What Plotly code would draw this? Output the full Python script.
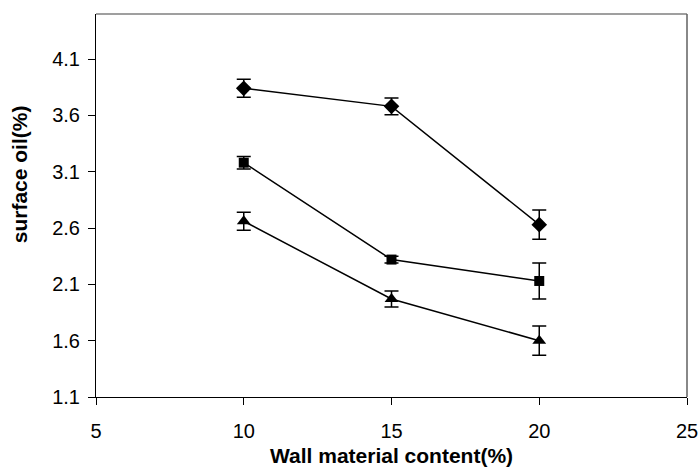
import plotly.graph_objects as go

x_vals = [10, 15, 20]
diamond_vals = [3.84, 3.68, 2.63]
diamond_err = [0.08, 0.075, 0.13]
square_vals = [3.18, 2.32, 2.13]
square_err = [0.055, 0.03, 0.16]
triangle_vals = [2.66, 1.97, 1.60]
triangle_err = [0.08, 0.07, 0.13]

y_ticks = [1.1, 1.6, 2.1, 2.6, 3.1, 3.6, 4.1]
x_ticks = [5, 10, 15, 20, 25]

fig = go.Figure()
for vals, errs, sym, size in [
    (diamond_vals, diamond_err, "diamond", 12),
    (square_vals, square_err, "square", 10),
    (triangle_vals, triangle_err, "triangle-up", 12),
]:
    fig.add_trace(go.Scatter(
        x=x_vals, y=vals, mode="lines+markers",
        line=dict(color="black", width=1.5),
        marker=dict(symbol=sym, size=size, color="black"),
        error_y=dict(type="data", array=errs, visible=True, color="black", thickness=1.5, width=7),
        showlegend=False,
    ))

fig.update_layout(
    width=700, height=468,
    margin=dict(l=96, r=13, t=14, b=71),
    plot_bgcolor="white", paper_bgcolor="white",
    font=dict(family="Liberation Sans, Arial", size=20, color="black"),
    xaxis=dict(range=[5, 25], tickvals=x_ticks, ticks="outside", ticklen=7, tickcolor="black",
               showline=True, linecolor="black", linewidth=1, showgrid=False, zeroline=False,
               ticklabelstandoff=9, automargin=False),
    yaxis=dict(range=[1.1, 4.5], tickvals=y_ticks, ticktext=[f"{v:.1f}" for v in y_ticks],
               ticks="outside", ticklen=7, tickcolor="black",
               showline=True, linecolor="black", linewidth=1, showgrid=False, zeroline=False,
               ticklabelstandoff=4, automargin=False),
    shapes=[
        dict(type="line", xref="paper", yref="paper", x0=0, x1=1, y0=1, y1=1,
             line=dict(color="#404040", width=1.2)),
        dict(type="line", xref="paper", yref="paper", x0=1, x1=1, y0=0, y1=1,
             line=dict(color="#606060", width=1.5)),
    ],
    annotations=[
        dict(text="<b>Wall material content(%)</b>", xref="paper", yref="paper",
             x=0.5, y=-0.154, xanchor="center", yanchor="middle", showarrow=False,
             font=dict(size=21)),
        dict(text="<b>surface oil(%)</b>", xref="paper", yref="paper", textangle=-90,
             x=-0.13, y=0.582, xanchor="center", yanchor="middle", showarrow=False,
             font=dict(size=21)),
    ],
)

fig.write_html("out.html", config={"displayModeBar": False},
               post_script="document.body.style.margin='0';")
